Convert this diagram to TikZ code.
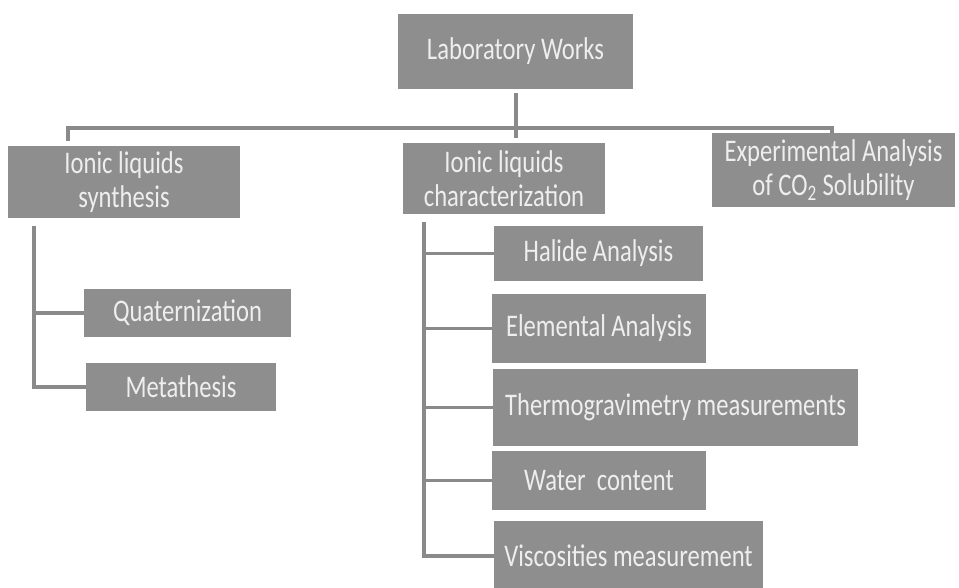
\documentclass[tikz,border=0pt]{standalone}
\usepackage{fontspec}
\setmainfont{Carlito}
\usepackage{graphicx}
\usepackage{tikz}
\usetikzlibrary{arrows.meta, positioning, calc}
\definecolor{boxgrey}{HTML}{8E8E8E}
\definecolor{textgrey}{HTML}{EEEEEE}
\definecolor{linkgrey}{HTML}{8A8A8A}
\newcommand{\tall}[1]{\scalebox{1}[1.28]{#1}}

\begin{document}
\begin{tikzpicture}[x=0.03cm, y=-0.03cm,
    box/.style={fill=boxgrey, text=textgrey, inner sep=0pt, align=center,
      font=\fontsize{21}{29}\selectfont},
    link/.style={draw=linkgrey, line width=3.4pt}]
      \useasboundingbox (0,0) rectangle (959,587);
      % top level
      \node[box, minimum width=7.05cm, minimum height=2.25cm] (lab) at (515.5,51.5) {\tall{Laboratory Works}};
      \node[box, minimum width=6.96cm, minimum height=2.16cm] (synth) at (124,182) {\tall{Ionic liquids}\\\tall{synthesis}};
      \node[box, minimum width=6.06cm, minimum height=2.13cm] (charac) at (504,178.5) {\tall{Ionic liquids}\\\tall{characterization}};
      \node[box, minimum width=7.29cm, minimum height=2.22cm] (co2) at (833.5,170) {\tall{Experimental Analysis}\\\tall{of CO\textsubscript{2} Solubility}};
      % synthesis steps
      \node[box, minimum width=6.21cm, minimum height=1.44cm] (quat) at (187.5,313) {\tall{Quaternization}};
      \node[box, minimum width=5.70cm, minimum height=1.44cm] (meta) at (181,387) {\tall{Metathesis}};
      % characterization steps
      \node[box, minimum width=6.27cm, minimum height=1.65cm] (halide) at (598.5,253.5) {\tall{Halide Analysis}};
      \node[box, minimum width=6.42cm, minimum height=2.07cm] (elem) at (599,328.5) {\tall{Elemental Analysis}};
      \node[box, minimum width=10.95cm, minimum height=2.31cm] (thermo) at (675.5,407.5) {\tall{Thermogravimetry measurements}};
      \node[box, minimum width=6.42cm, minimum height=1.77cm] (water) at (599,480.5) {\tall{Water\ \ content}};
      \node[box, minimum width=8.07cm, minimum height=2.10cm] (visc) at (628.5,556) {\tall{Viscosities measurement}};
      % top bar
      \coordinate (barl) at (68,128);
      \coordinate (barr) at (832,128);
      \draw[link] ($(lab.south)+(0,4)$) -- ($(lab.south)+(0,49)$);
      \draw[link] ($(barl)+(0,13)$) -- (barl) -- (barr) -- ($(barr)+(0,6)$);
      % branches
      \coordinate (sbar) at (34,226);
      \draw[link] (sbar) |- (meta.west);
      \draw[link] (sbar |- quat.west) -- (quat.west);
      \coordinate (cbar) at (424,222);
      \draw[link] (cbar) |- (visc.west);
      \foreach \n in {halide, elem, thermo, water}
        \draw[link] (cbar |- \n.west) -- (\n.west);
\end{tikzpicture}
\end{document}
